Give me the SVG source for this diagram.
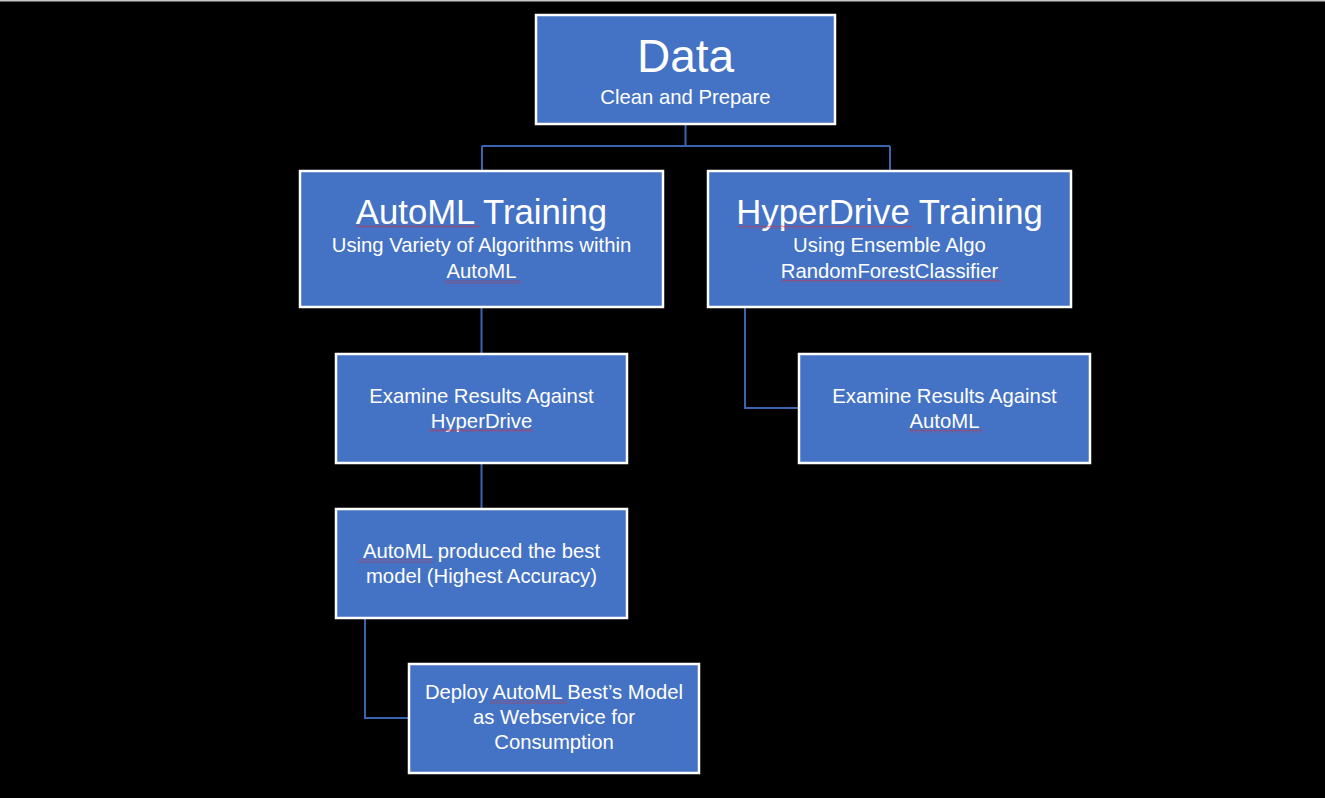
<svg xmlns="http://www.w3.org/2000/svg" width="1325" height="798" viewBox="0 0 1325 798">
<defs>
<pattern id="sq" patternUnits="userSpaceOnUse" width="4" height="3">
<path d="M0 2.5 L2 0.5 L4 2.5" fill="none" stroke="#e0262e" stroke-width="0.9"/>
</pattern>
<style>
.box{fill:#4472C4;stroke:#ffffff;stroke-width:2.5}
.t{font-family:"Liberation Sans",Arial,sans-serif;fill:#ffffff;text-anchor:middle}
.big{font-size:46px}
.h{font-size:34.7px}
.b{font-size:20.3px}
.c{fill:none;stroke:#3A64AE;stroke-width:2}
.s{fill:url(#sq)}
</style>
</defs>
<rect x="0" y="0" width="1325" height="798" fill="#000000"/>
<rect x="0" y="0" width="1325" height="1.5" fill="#c8c8c8"/>
<g id="connectors">
<path class="c" d="M685.5 124 V146 M482 146 H890 M482 146 V171 M890 146 V171"/>
<path class="c" d="M481.5 307 V354"/>
<path class="c" d="M481.5 463 V509"/>
<path class="c" d="M745 307 V408 H799"/>
<path class="c" d="M365 618 V718 H409"/>
</g>
<g id="data">
<rect class="box" x="536" y="15" width="299" height="109"/>
<text class="t big" x="685.5" y="72">Data</text>
<text class="t b" x="685.5" y="104">Clean and Prepare</text>
</g>
<g id="automl-training">
<rect class="box" x="300" y="171" width="363" height="136"/>
<text class="t h" x="481.5" y="224">AutoML Training</text>
<text class="t b" x="481.5" y="252">Using Variety of Algorithms within</text>
<text class="t b" x="481.5" y="278">AutoML</text>
<rect class="s" x="356" y="225" width="123" height="3"/>
<rect class="s" x="445" y="280.5" width="76" height="3"/>
</g>
<g id="hyperdrive-training">
<rect class="box" x="708" y="171" width="363" height="136"/>
<text class="t h" x="889.5" y="224">HyperDrive Training</text>
<text class="t b" x="889.5" y="252">Using Ensemble Algo</text>
<text class="t b" x="889.5" y="278">RandomForestClassifier</text>
<rect class="s" x="738" y="225.5" width="175" height="3"/>
<rect class="s" x="782" y="279.5" width="219" height="3"/>
</g>
<g id="examine-hyperdrive">
<rect class="box" x="336" y="354" width="291" height="109"/>
<text class="t b" x="481.5" y="403">Examine Results Against</text>
<text class="t b" x="481.5" y="428">HyperDrive</text>
<rect class="s" x="429" y="429" width="104" height="3"/>
</g>
<g id="examine-automl">
<rect class="box" x="799" y="354" width="291" height="109"/>
<text class="t b" x="944.5" y="403">Examine Results Against</text>
<text class="t b" x="944.5" y="428">AutoML</text>
<rect class="s" x="908" y="429.5" width="75" height="3"/>
</g>
<g id="best-model">
<rect class="box" x="336" y="509" width="291" height="109"/>
<text class="t b" x="481.5" y="558">AutoML produced the best</text>
<text class="t b" x="481.5" y="583">model (Highest Accuracy)</text>
<rect class="s" x="358" y="559.5" width="75" height="3"/>
</g>
<g id="deploy">
<rect class="box" x="409" y="664" width="290" height="109"/>
<text class="t b" x="554" y="699">Deploy AutoML Best’s Model</text>
<text class="t b" x="554" y="724">as Webservice for</text>
<text class="t b" x="554" y="749">Consumption</text>
<rect class="s" x="490" y="700.5" width="77" height="3"/>
</g>
</svg>
